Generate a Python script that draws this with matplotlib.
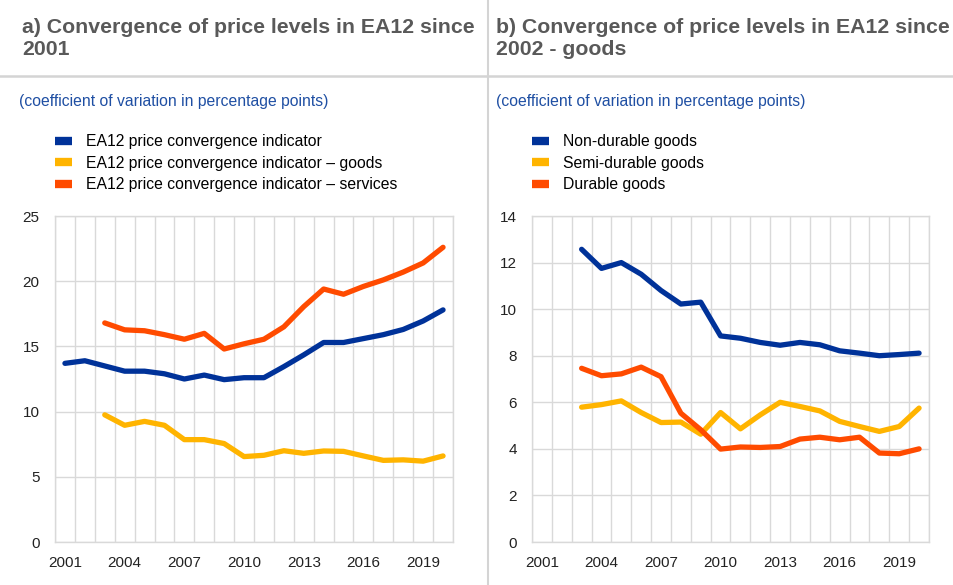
import matplotlib
matplotlib.use("Agg")
import matplotlib.pyplot as plt
import numpy as np

years = list(range(2001, 2021))
tick_years = [2001, 2004, 2007, 2010, 2013, 2016, 2019]

# Panel a
ea12_total = [13.7, 13.9, 13.5, 13.1, 13.1, 12.9, 12.5, 12.8, 12.45, 12.6,
              12.6, 13.45, 14.35, 15.3, 15.3, 15.6, 15.9, 16.3, 16.95, 17.8]
ea12_goods = [None, None, 9.75, 8.95, 9.25, 8.95, 7.85, 7.85, 7.55, 6.55,
              6.65, 7.0, 6.8, 6.98, 6.95, 6.6, 6.26, 6.3, 6.2, 6.6]
ea12_services = [None, None, 16.8, 16.27, 16.2, 15.9, 15.55, 16.0, 14.8, 15.2,
                 15.55, 16.5, 18.05, 19.4, 19.0, 19.6, 20.1, 20.7, 21.4, 22.6]

# Panel b
non_durable = [None, None, 12.57, 11.75, 12.0, 11.5, 10.8, 10.22, 10.3, 8.85,
               8.75, 8.57, 8.45, 8.57, 8.47, 8.21, 8.11, 8.0, 8.05, 8.11]
semi_durable = [None, None, 5.79, 5.9, 6.06, 5.56, 5.13, 5.15, 4.63, 5.56,
                4.86, 5.46, 6.0, 5.82, 5.63, 5.18, 4.96, 4.75, 4.96, 5.75]
durable = [None, None, 7.46, 7.14, 7.22, 7.51, 7.1, 5.53, 4.82, 3.99,
           4.08, 4.06, 4.1, 4.42, 4.5, 4.39, 4.5, 3.82, 3.79, 4.0]

labels_a = ["EA12 price convergence indicator",
            "EA12 price convergence indicator \u2013 goods",
            "EA12 price convergence indicator \u2013 services"]
labels_b = ["Non-durable goods", "Semi-durable goods", "Durable goods"]

BLUE = "#003299"
YELLOW = "#ffb400"
ORANGE = "#ff4b00"
GRID = "#d9d9d9"
TITLE_C = "#595959"
SUB_C = "#1f4fa3"

plt.rcParams['font.family'] = ['Liberation Sans', 'DejaVu Sans']

W, H = 954, 585
fig = plt.figure(figsize=(W / 100, H / 100), dpi=100)


def to_fig(x0, y0, x1, y1):
    return [x0 / W, 1 - y1 / H, (x1 - x0) / W, (y1 - y0) / H]


def series(vals):
    return np.array([np.nan if v is None else v for v in vals], dtype=float)


def panel(rect, data, labels, ymax, ystep, legend_x, title, sub_x):
    ax = fig.add_axes(rect)
    x = np.arange(len(years))
    cols = [BLUE, YELLOW, ORANGE]
    for vals, c, lab in zip(data, cols, labels):
        ax.plot(x, series(vals), color=c, lw=3.8, solid_capstyle='round',
                solid_joinstyle='round', label=lab)
    ax.set_xlim(-0.5, len(years) - 0.5)
    ax.set_ylim(0, ymax)
    ax.set_yticks(np.arange(0, ymax + 0.01, ystep))
    ax.set_xticks(x[::3])
    ax.set_xticklabels([str(y) for y in tick_years])
    ax.set_xticks(np.arange(-0.5, len(years), 1.0), minor=True)
    ax.grid(False)
    ax.grid(True, which='minor', axis='x', color=GRID, lw=1.0)
    ax.grid(True, which='major', axis='y', color=GRID, lw=1.0)
    ax.set_axisbelow(True)
    for s in ax.spines.values():
        s.set_color(GRID)
        s.set_linewidth(1.0)
    ax.tick_params(which='both', length=0)
    ax.tick_params(axis='both', labelsize=11, labelcolor="#222222")
    ax.tick_params(axis='y', pad=11)
    ax.tick_params(axis='x', pad=10)
    # legend
    leg_handles = [plt.Line2D([], [], color=c, lw=6, solid_capstyle='butt') for c in cols]
    fig.legend(leg_handles, labels, loc='upper left',
               bbox_to_anchor=(legend_x / W, 1 - 134 / H), frameon=False,
               fontsize=11.3, handlelength=1.1, handletextpad=0.85,
               labelspacing=0.42, borderaxespad=0, borderpad=0)
    fig.text(title[0] / W, 1 - 18 / H, title[1], fontsize=15.3, fontweight='bold',
             color=TITLE_C, va='top', ha='left', linespacing=1.2)
    fig.text(sub_x / W, 1 - 101 / H, "(coefficient of variation in percentage points)",
             fontsize=11.3, color=SUB_C, va='center', ha='left')
    return ax


panel(to_fig(55, 216, 453, 542), [ea12_total, ea12_goods, ea12_services], labels_a,
      25, 5, 55, (22, "a) Convergence of price levels in EA12 since\n2001"), 19)
panel(to_fig(532, 216, 929, 542), [non_durable, semi_durable, durable], labels_b,
      14, 2, 532, (496, "b) Convergence of price levels in EA12 since\n2002 - goods"), 496)

# separators
fig.add_artist(plt.Line2D([0, 1], [1 - 76 / H, 1 - 76 / H], color="#d4d4d4", lw=1.8,
                          transform=fig.transFigure))
fig.add_artist(plt.Line2D([488 / W, 488 / W], [0, 1], color="#d4d4d4", lw=1.5,
                          transform=fig.transFigure))

fig.savefig("out.png", dpi=100)
